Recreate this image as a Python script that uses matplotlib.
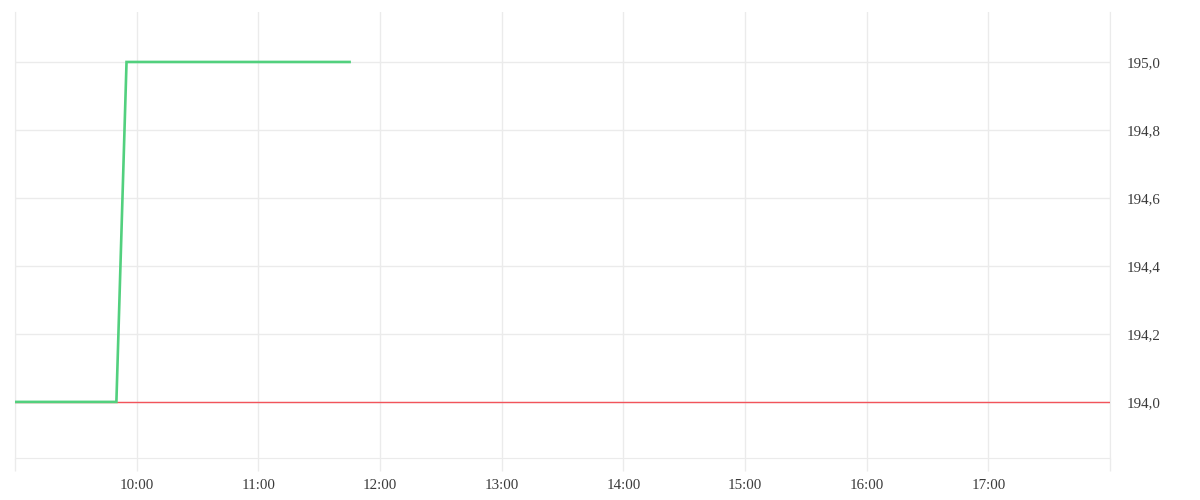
import matplotlib.pyplot as plt
from matplotlib.ticker import FixedLocator, FuncFormatter

# intraday price (breakpoints of the line)
times = ["09:00", "09:50", "09:55", "11:45"]
prices = [194.0, 194.0, 195.0, 195.0]
prev_close = 194.0

session_start = "09:00"
session_end = "18:00"
y_ticks = [194.0, 194.2, 194.4, 194.6, 194.8, 195.0]
x_labels = ["10:00", "11:00", "12:00", "13:00", "14:00", "15:00", "16:00", "17:00"]


def to_hours(t):
    h, m = t.split(":")
    return int(h) + int(m) / 60


grid_col = "#ebebeb"
text_col = "#3a3a3a"
plt.rcParams["font.family"] = ["Liberation Serif", "DejaVu Serif"]

fig = plt.figure(figsize=(12, 5), dpi=100)
ax = fig.add_axes([0.0125, 0.084, 0.9125, 0.892])

x0, x1 = to_hours(session_start), to_hours(session_end)
ax.axhline(prev_close, color="#f2545b", lw=1.0, zorder=3)
ax.plot([to_hours(t) for t in times], prices, color="#52d07e", lw=1.9,
        solid_joinstyle="miter", zorder=4)

ax.set_xlim(x0, x1)
ax.set_ylim(193.835, 195.147)

hour_ticks = list(range(int(x0), int(x1) + 1))
ax.xaxis.set_major_locator(FixedLocator(hour_ticks))
ax.xaxis.set_major_formatter(FuncFormatter(
    lambda v, p: f"{int(round(v)):02d}:00" if f"{int(round(v)):02d}:00" in x_labels else ""))
ax.yaxis.set_major_locator(FixedLocator(y_ticks))
ax.yaxis.set_major_formatter(FuncFormatter(lambda v, p: f"{v:.1f}".replace(".", ",")))

ax.yaxis.tick_right()
ax.tick_params(axis="y", length=0, pad=12, labelsize=10.8, labelcolor=text_col)
ax.tick_params(axis="x", length=9, width=1, color=grid_col, pad=6,
               labelsize=10.8, labelcolor=text_col)

ax.grid(True, color=grid_col, lw=1, zorder=0)
ax.set_axisbelow(True)
for side in ["left", "right", "bottom"]:
    ax.spines[side].set_color(grid_col)
ax.spines["top"].set_visible(False)

fig.savefig("out.png", dpi=100)
